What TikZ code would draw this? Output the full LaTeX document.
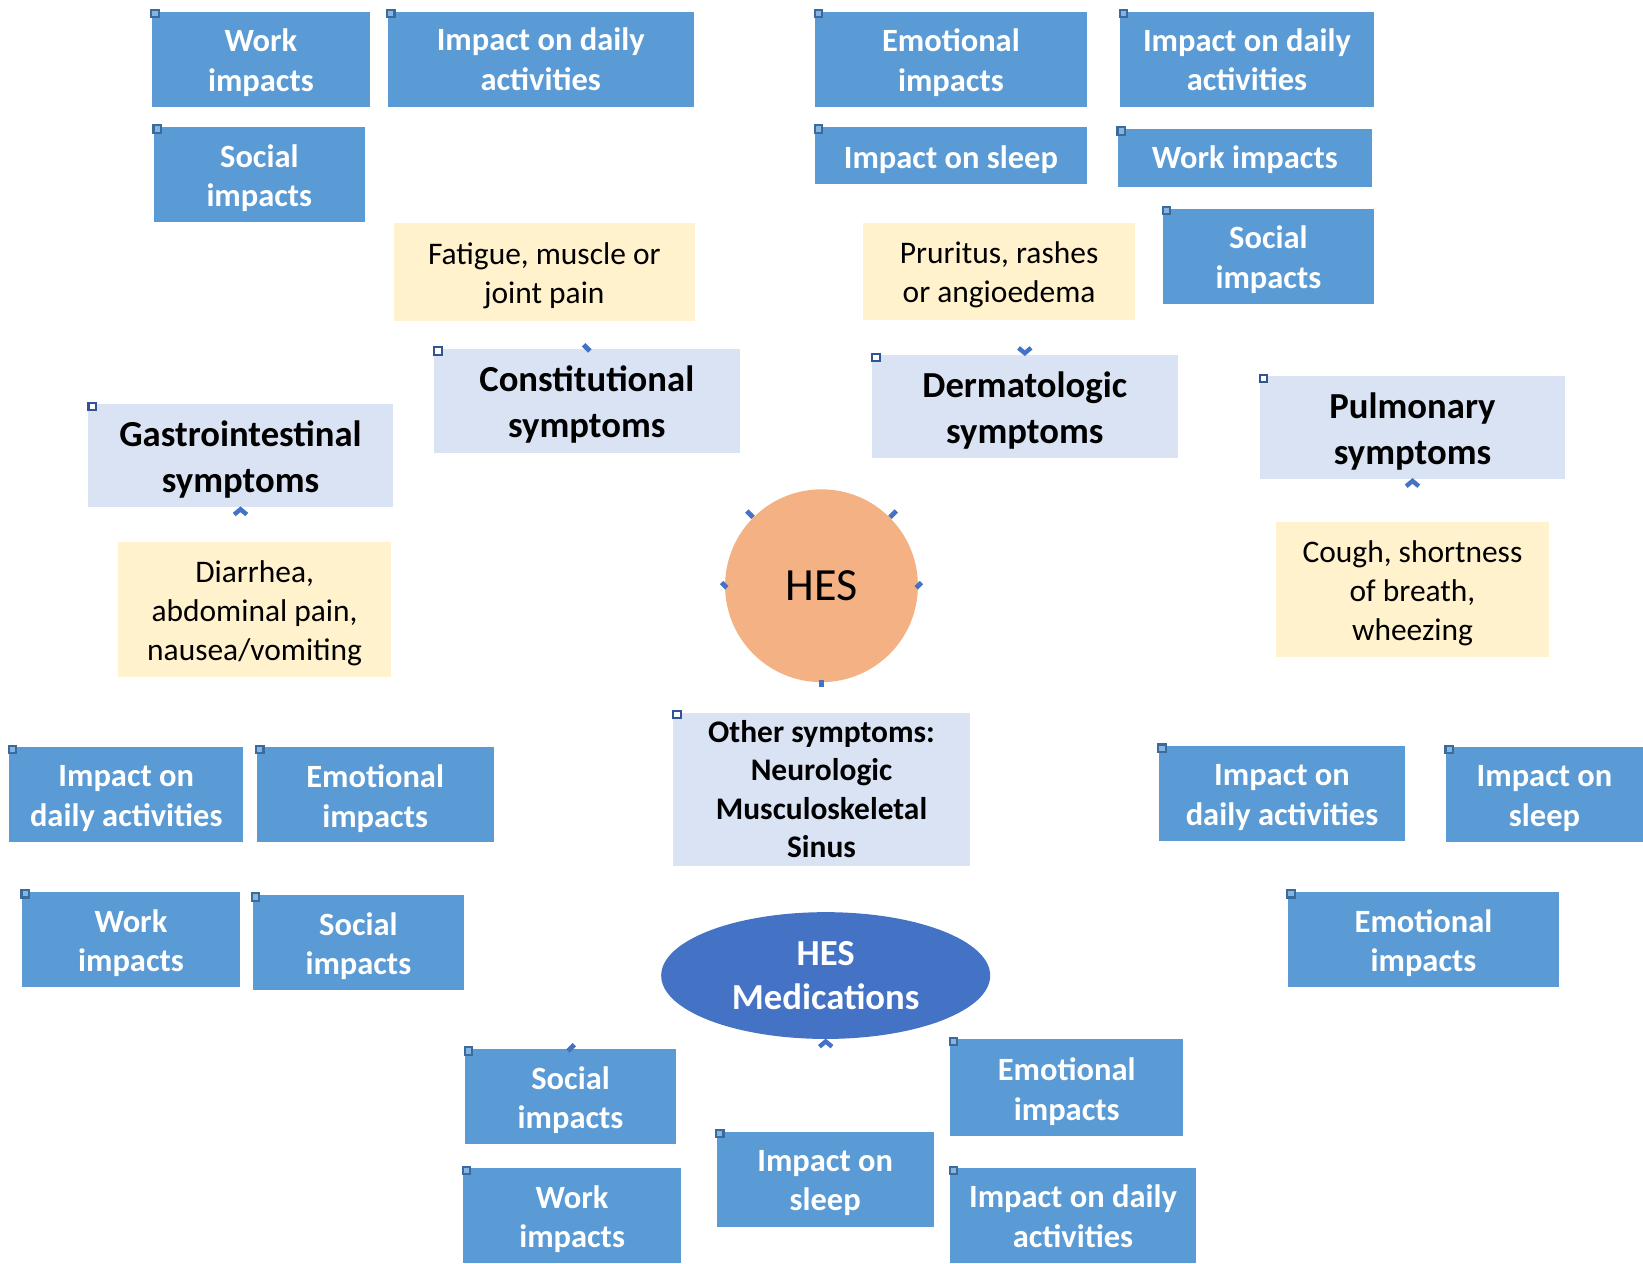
\documentclass[tikz,border=0pt]{standalone}
\usepackage{fontspec}
\setmainfont{Carlito}
\usetikzlibrary{shapes.geometric}
\definecolor{boxblue}{HTML}{5B9BD5}
\definecolor{headblue}{HTML}{DAE3F3}
\definecolor{noteyel}{HTML}{FFF2CC}
\definecolor{hesorange}{HTML}{F4B183}
\definecolor{medblue}{HTML}{4472C4}
\definecolor{mkdark}{HTML}{2F5597}
\definecolor{mkblue}{HTML}{3A6B9C}
\newcommand\bmark[1]{\draw[draw=mkblue, line width=1pt, fill=boxblue!75!white] ([shift={(3,2)}]#1.north west) ++(-3.5,-3.5) rectangle ++(7,7);}
\newcommand\hmark[1]{\draw[draw=mkdark, line width=1pt, fill=white] ([shift={(4,2)}]#1.north west) ++(-3.5,-3.5) rectangle ++(7,7);}
% box style, text style, name, x0, y0, x1, y1, text
\newcommand\boxat[8]{%
  \pgfmathsetmacro\bxw{(#6-#4)*0.5}%
  \pgfmathsetmacro\bxh{(#7-#5)*0.5}%
  \pgfmathsetmacro\bxx{(#4+#6)/2}%
  \pgfmathsetmacro\bxy{(#5+#7)/2}%
  \node[#1, minimum width=\bxw pt, minimum height=\bxh pt, label={[#2]center:{#8}}] (#3) at (\bxx,\bxy) {};}
\begin{document}
\begin{tikzpicture}[x=0.5pt,y=-0.5pt,
 base/.style={inner sep=0pt, outer sep=0pt, rectangle},
 bluebox/.style={base, fill=boxblue},
 headbox/.style={base, fill=headblue},
 notebox/.style={base, fill=noteyel},
 txt/.style={inner sep=0pt, align=center, yshift=-1.75pt},
 btext/.style={txt, text=white, font=\fontsize{15.5}{19}\selectfont\bfseries},
 htext/.style={txt, text=black, font=\fontsize{17.5}{22}\selectfont\bfseries},
 ntext/.style={txt, text=black, font=\fontsize{15}{18.6}\selectfont},
 otext/.style={txt, yshift=1.75pt, text=black, font=\fontsize{15}{18.3}\selectfont\bfseries},
 stub/.style={draw=medblue, line width=2.3pt},
 chev/.style={draw=medblue, line width=2.1pt, line join=miter},
]
\fill[white] (0,0) rectangle (1568,1206);
\useasboundingbox (0,0) rectangle (1568,1206);

% top-left group
\boxat{bluebox}{btext}{tl1}{145}{11}{353}{102}{Work\\impacts}
\boxat{bluebox}{btext,yshift=1.75pt}{tl2}{370}{11}{662}{102}{Impact on daily\\activities}
\boxat{bluebox}{btext}{tl3}{147}{121}{348}{212}{Social\\impacts}
\boxat{notebox}{ntext}{fat}{376}{213}{663}{306}{Fatigue, muscle or\\joint pain}
\boxat{headbox}{htext}{con}{414}{333}{706}{432}{Constitutional\\symptoms}
\boxat{headbox}{htext}{gas}{84}{386}{375}{484}{Gastrointestinal\\symptoms}
\boxat{notebox}{ntext}{dia}{113}{517}{373}{646}{Diarrhea,\\abdominal pain,\\nausea/vomiting}

% top-right group
\boxat{bluebox}{btext}{tr1}{778}{11}{1037}{102}{Emotional\\impacts}
\boxat{bluebox}{btext,yshift=1.5pt}{tr2}{1069}{11}{1311}{102}{Impact on daily\\activities}
\boxat{bluebox}{btext}{tr3}{778}{121}{1037}{176}{Impact on sleep}
\boxat{bluebox}{btext,yshift=1pt}{tr4}{1067}{123}{1309}{178}{Work impacts}
\boxat{bluebox}{btext}{tr5}{1110}{199}{1311}{290}{Social\\impacts}
\boxat{notebox}{ntext}{pru}{824}{213}{1083}{305}{Pruritus, rashes\\or angioedema}
\boxat{headbox}{htext}{der}{832}{339}{1124}{437}{Dermatologic\\symptoms}
\boxat{headbox}{htext}{pul}{1202}{359}{1494}{457}{Pulmonary\\symptoms}
\boxat{notebox}{ntext}{cou}{1218}{498}{1478}{627}{Cough, shortness\\of breath,\\wheezing}

% centre
\node[circle, fill=hesorange, inner sep=0pt, minimum size=92pt, font=\fontsize{22}{26}\selectfont] (hes) at (784,559) {HES};
\boxat{headbox}{otext}{oth}{642}{680}{926}{826}{Other symptoms:\\Neurologic\\Musculoskeletal\\Sinus}
\node[ellipse, fill=medblue, inner sep=0pt, minimum width=157pt, minimum height=60.5pt, text=white, align=center, font=\fontsize{17.5}{21}\selectfont\bfseries] (med) at (788,931) {HES\\Medications};

% lower-left group
\boxat{bluebox}{btext}{ll1}{9}{713}{232}{804}{Impact on\\daily activities}
\boxat{bluebox}{btext}{ll2}{245}{713}{471}{804}{Emotional\\impacts}
\boxat{bluebox}{btext}{ll3}{21}{851}{229}{942}{Work\\impacts}
\boxat{bluebox}{btext}{ll4}{241}{854}{443}{945}{Social\\impacts}

% lower-right group
\boxat{bluebox}{btext}{lr1}{1106}{712}{1341}{803}{Impact on\\daily activities}
\boxat{bluebox}{btext}{lr2}{1380}{713}{1568}{804}{Impact on\\sleep}
\boxat{bluebox}{btext}{lr3}{1229}{851}{1488}{942}{Emotional\\impacts}

% bottom group
\boxat{bluebox}{btext}{b1}{444}{1001}{645}{1092}{Social\\impacts}
\boxat{bluebox}{btext}{b2}{442}{1115}{650}{1205}{Work\\impacts}
\boxat{bluebox}{btext}{b3}{684}{1080}{891}{1171}{Impact on\\sleep}
\boxat{bluebox}{btext}{b4}{907}{992}{1129}{1084}{Emotional\\impacts}
\boxat{bluebox}{btext,yshift=1.25pt}{b5}{907}{1115}{1141}{1205}{Impact on daily\\activities}

% corner handles
\foreach \n in {tl1,tl2,tl3,tr1,tr2,tr3,tr4,tr5,ll1,ll2,ll3,ll4,lr1,lr2,lr3,b1,b2,b3,b4,b5}{\bmark{\n}}
\foreach \n in {con,gas,der,pul,oth}{\hmark{\n}}

% connector stubs
\draw[stub] ([shift={(-3,-3)}]con.north) ++(0,-1) -- ++(6,6);
\draw[chev] ([shift={(-6,-7)}]der.north) -- ++(6,5) -- ++(6,-5);
\draw[chev] ([shift={(-6,7)}]pul.south) -- ++(6,-5) -- ++(6,5);
\draw[chev] ([shift={(-6,7)}]gas.south) -- ++(6,-5) -- ++(6,5);
\draw[stub] (hes.north west) ++(-6,-6) -- ++(6,6);
\draw[stub] (hes.north east) ++(6,-6) -- ++(-6,6);
\draw[stub] (hes.west) ++(-3,-3) -- ++(5,5);
\draw[stub] (hes.east) ++(3,-3) -- ++(-5,5);
\draw[stub] (hes.south) ++(0,-2) -- ++(0,6);
\draw[chev] ([shift={(-6,7)}]med.south) -- ++(6,-5) -- ++(6,5);
\draw[stub] (med.south east) ++(-10,-6) -- ++(6,6);
\draw[stub] ([shift={(104,-4)}]b1.north west) -- ++(-6,6);
\end{tikzpicture}
\end{document}
